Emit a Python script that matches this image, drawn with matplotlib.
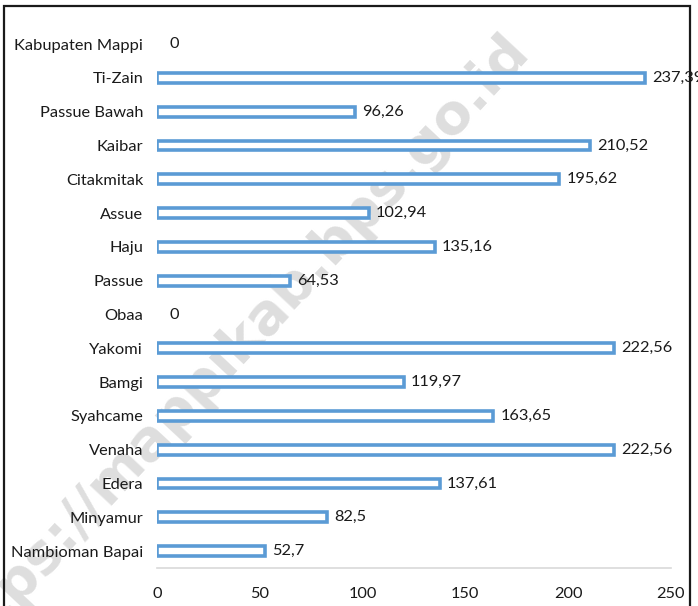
import matplotlib
matplotlib.use("Agg")
import matplotlib.pyplot as plt
from matplotlib.patches import Rectangle

# top to bottom as shown in the chart
categories = [
    "Kabupaten Mappi", "Ti-Zain", "Passue Bawah", "Kaibar", "Citakmitak",
    "Assue", "Haju", "Passue", "Obaa", "Yakomi", "Bamgi", "Syahcame",
    "Venaha", "Edera", "Minyamur", "Nambioman Bapai",
]
values = [0, 237.39, 96.26, 210.52, 195.62, 102.94, 135.16, 64.53, 0,
          222.56, 119.97, 163.65, 222.56, 137.61, 82.5, 52.7]
xticks = [0, 50, 100, 150, 200, 250]

BLUE = "#5B9BD5"

plt.rcParams["font.family"] = ["Lato", "DejaVu Sans"]


def fmt(v: float) -> str:
    return f"{v:g}".replace(".", ",")


def main() -> None:
    fig = plt.figure(figsize=(6.98, 6.06), dpi=100)

    # watermark, behind everything
    fig.text(0.33, 0.42, "https://mappikab.bps.go.id", rotation=47,
             ha="center", va="center", fontsize=40, fontweight="heavy",
             family=["DejaVu Sans"], color="#dedede", zorder=-5)

    ax = fig.add_axes([0.225, 0.0627, 0.736, 0.8923])
    ax.set_facecolor("none")

    ypos = list(range(len(categories)))[::-1]
    widths = [2.6 if v > 0 else 0 for v in values]
    ax.barh(ypos, values, height=0.29, color="white", edgecolor=BLUE,
            linewidth=widths, zorder=3)
    for y, v in zip(ypos, values):
        off = 6 if v == 0 else 3.5
        ax.text(v + off, y, fmt(v), va="center", ha="left", fontsize=11.8,
                color="#1a1a1a", zorder=4, clip_on=False)

    ax.set_yticks(ypos)
    ax.set_yticklabels(categories, fontsize=11.8, color="#1a1a1a")
    ax.set_xticks(xticks)
    ax.set_xticklabels([str(t) for t in xticks], fontsize=11.8, color="#1a1a1a")
    ax.set_xlim(0, 250)
    ax.set_ylim(-0.5, len(categories) - 0.5)
    ax.tick_params(axis="both", length=0)
    ax.tick_params(axis="y", pad=10)
    ax.tick_params(axis="x", pad=14)
    for side in ("top", "right", "left"):
        ax.spines[side].set_visible(False)
    ax.spines["bottom"].set_color("#d9d9d9")
    ax.spines["bottom"].set_linewidth(1.2)

    # frame around the figure
    fig.patches.append(Rectangle((4 / 698, -0.02), 686 / 698, 1.02 - 6 / 606,
                                 transform=fig.transFigure, fill=False,
                                 edgecolor="#1a1a1a", linewidth=1.6))

    fig.savefig("out.png", dpi=100)
    plt.close(fig)


if __name__ == "__main__":
    main()
